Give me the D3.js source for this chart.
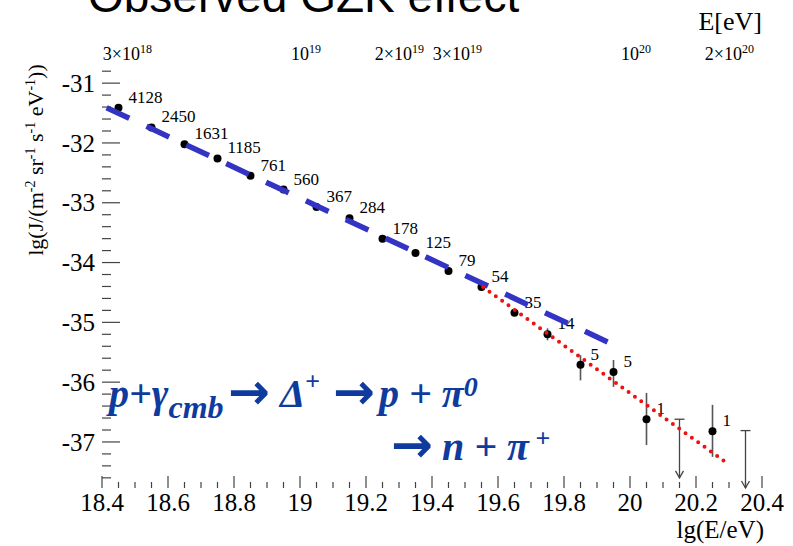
<!DOCTYPE html>
<html>
<head>
<meta charset="utf-8">
<script src="https://cdn.jsdelivr.net/npm/d3@7"></script>
<style>
    body { margin: 0; background: #fff; }
</style>
</head>
<body>
<div id="chart"></div>
<script>
// measured points: bin centres in lg(E/eV), flux lg J, event counts
var lgE = [18.45, 18.55, 18.65, 18.75, 18.85, 18.95, 19.05, 19.15, 19.25, 19.35,
           19.45, 19.55, 19.65, 19.75, 19.85, 19.95, 20.05, 20.25];
var lgJ = [-31.41, -31.74, -32.02, -32.26, -32.55, -32.78, -33.07, -33.26, -33.60, -33.84,
           -34.14, -34.41, -34.84, -35.20, -35.71, -35.83, -36.62, -36.82];
var counts = ["4128", "2450", "1631", "1185", "761", "560", "367", "284", "178", "125",
              "79", "54", "35", "14", "5", "5", "1", "1"];
// error bars (only the last bins have visible ones)
var errHi = [null, null, null, null, null, null, null, null, null, null,
             null, null, null, -35.10, -35.55, -35.63, -36.18, -36.38];
var errLo = [null, null, null, null, null, null, null, null, null, null,
             null, null, null, -35.30, -35.97, -36.08, -37.05, -37.25];
// upper limits (empty bins)
var ulE = [20.15, 20.35];
var ulTop = [-36.62, -36.81];
var ulBottom = [-37.60, -37.77];
// fits
var blueE = [18.414, 19.964];
var blueJ = [-31.41, -35.41];
var redE = [19.555, 20.298];
var redJ = [-34.41, -37.37];
// axes
var xTicks = [18.4, 18.6, 18.8, 19.0, 19.2, 19.4, 19.6, 19.8, 20.0, 20.2, 20.4];
var yTicks = [-31, -32, -33, -34, -35, -36, -37];
var topLabels = [
    { v: 3e18, m: "3\u00d710", e: "18" },
    { v: 1e19, m: "10", e: "19" },
    { v: 2e19, m: "2\u00d710", e: "19" },
    { v: 3e19, m: "3\u00d710", e: "19" },
    { v: 1e20, m: "10", e: "20" },
    { v: 2e20, m: "2\u00d710", e: "20" }
];

var W = 793, H = 546;
var serif = "'Liberation Serif', 'Times New Roman', serif";
var svg = d3.select("#chart").append("svg")
    .attr("width", W).attr("height", H)
    .attr("font-family", serif)
    .style("font-family", serif);

var x = d3.scaleLinear().domain([18.4, 20.4]).range([102, 762]);
var y = d3.scaleLinear().domain([-37.77, -30.73]).range([488, 67]);
var left = x.range()[0], right = x.range()[1], top = y.range()[1], bottom = y.range()[0];

// title, cut at the top of the slide
svg.append("text")
    .attr("x", 88).attr("y", 12)
    .style("font-family", "'Liberation Sans', Arial, sans-serif")
    .style("font-size", "46px")
    .attr("fill", "#000")
    .text("Observed GZK effect");

// frame
svg.append("rect")
    .attr("x", left).attr("y", top)
    .attr("width", right - left).attr("height", bottom - top)
    .attr("fill", "none").attr("stroke", "#444").attr("stroke-width", 1.4);

// bottom axis, ticks inward
var xMinor = d3.range(18.4, 20.401, 0.05);
svg.append("g").selectAll("line").data(xMinor).enter().append("line")
    .attr("x1", function (d) { return x(d); }).attr("x2", function (d) { return x(d); })
    .attr("y1", bottom)
    .attr("y2", function (d) { return Math.abs(Math.round(d * 5) - d * 5) < 1e-6 ? bottom - 12 : bottom - 6; })
    .attr("stroke", "#444").attr("stroke-width", 1.2);
svg.append("g").selectAll("text").data(xTicks).enter().append("text")
    .attr("x", function (d) { return x(d); })
    .attr("y", 511)
    .attr("text-anchor", "middle")
    .style("font-size", "25px")
    .text(function (d) { return String(+d.toFixed(1)); });
svg.append("text")
    .attr("x", 764).attr("y", 538)
    .attr("text-anchor", "end")
    .style("font-size", "25px")
    .text("lg(E/eV)");

// left axis, ticks inward
var yMinor = d3.range(-37.6, -30.79, 0.2);
svg.append("g").selectAll("line").data(yMinor).enter().append("line")
    .attr("y1", function (d) { return y(d); }).attr("y2", function (d) { return y(d); })
    .attr("x1", left)
    .attr("x2", function (d) { return Math.abs(Math.round(d) - d) < 1e-6 ? left + 18 : left + 9; })
    .attr("stroke", "#444").attr("stroke-width", 1.2);
svg.append("g").selectAll("text").data(yTicks).enter().append("text")
    .attr("x", 95)
    .attr("y", function (d) { return y(d); })
    .attr("dy", "0.35em")
    .attr("text-anchor", "end")
    .style("font-size", "25px")
    .text(function (d) { return String(d); });

var ylab = svg.append("text")
    .attr("transform", "translate(43,160) rotate(-90)")
    .attr("text-anchor", "middle")
    .style("font-size", "22px");
[["lg(J/(m", 0], ["-2", 1], [" sr", 0], ["-1", 1], [" s", 0], ["-1", 1], [" eV", 0], ["-1", 1], ["))", 0]]
    .forEach(function (p, i, arr) {
        var prevSup = i > 0 && arr[i - 1][1];
        var t = ylab.append("tspan").text(p[0]);
        if (p[1]) t.attr("dy", -8).style("font-size", "14px");
        else if (prevSup) t.attr("dy", 8);
    });

// top axis: E[eV], log positions on lg scale
var topVals = [];
[18, 19, 20].forEach(function (n) {
    for (var k = 1; k <= 9; k++) {
        var v = k * Math.pow(10, n);
        if (v >= 3e18 && v <= 2e20) topVals.push(v);
    }
});
svg.append("g").selectAll("line").data(topVals).enter().append("line")
    .attr("x1", function (d) { return x(Math.log10(d)); })
    .attr("x2", function (d) { return x(Math.log10(d)); })
    .attr("y1", top)
    .attr("y2", function (d) { return (d === 1e19 || d === 1e20) ? top + 12 : top + 6; })
    .attr("stroke", "#444").attr("stroke-width", 1.2);
var tl = svg.append("g").selectAll("text").data(topLabels).enter().append("text")
    .attr("x", function (d) { return x(Math.log10(d.v)) + (d.m === "10" ? 6 : 0); })
    .attr("y", 60)
    .attr("text-anchor", "middle")
    .style("font-size", "18px");
tl.append("tspan").text(function (d) { return d.m; });
tl.append("tspan").attr("dy", -7).style("font-size", "12px").text(function (d) { return d.e; });
svg.append("text")
    .attr("x", 762).attr("y", 30)
    .attr("text-anchor", "end")
    .style("font-size", "26px")
    .text("E[eV]");

// error bars
var pts = lgE.map(function (e, i) {
    return { e: e, j: lgJ[i], c: counts[i], hi: errHi[i], lo: errLo[i] };
});
svg.append("g").selectAll("line").data(pts.filter(function (d) { return d.hi !== null; }))
    .enter().append("line")
    .attr("x1", function (d) { return x(d.e); }).attr("x2", function (d) { return x(d.e); })
    .attr("y1", function (d) { return y(d.hi); }).attr("y2", function (d) { return y(d.lo); })
    .attr("stroke", "#555").attr("stroke-width", 1.6);

// upper limits
var ul = ulE.map(function (e, i) { return { e: e, t: ulTop[i], b: ulBottom[i] }; });
var ulg = svg.append("g").attr("stroke", "#444").attr("stroke-width", 1.3).attr("fill", "none");
ulg.selectAll(".stem").data(ul).enter().append("line")
    .attr("x1", function (d) { return x(d.e); }).attr("x2", function (d) { return x(d.e); })
    .attr("y1", function (d) { return y(d.t); }).attr("y2", function (d) { return y(d.b); });
ulg.selectAll(".cap").data(ul).enter().append("line")
    .attr("x1", function (d) { return x(d.e) - 5; }).attr("x2", function (d) { return x(d.e) + 5; })
    .attr("y1", function (d) { return y(d.t); }).attr("y2", function (d) { return y(d.t); });
ulg.selectAll(".head").data(ul).enter().append("path")
    .attr("d", function (d) {
        var px = x(d.e), py = y(d.b);
        return "M" + (px - 4) + "," + (py - 7) + "L" + px + "," + py + "L" + (px + 4) + "," + (py - 7);
    });

// points
svg.append("g").selectAll("circle").data(pts).enter().append("circle")
    .attr("cx", function (d) { return x(d.e); })
    .attr("cy", function (d) { return y(d.j); })
    .attr("r", 4)
    .attr("fill", "#000");

// event counts
svg.append("g").selectAll("text").data(pts).enter().append("text")
    .attr("x", function (d) { return x(d.e) + 10; })
    .attr("y", function (d) { return y(d.j) - 5; })
    .style("font-size", "17px")
    .text(function (d) { return d.c; });

// fits
var line = d3.line().x(function (d) { return x(d[0]); }).y(function (d) { return y(d[1]); });
svg.append("path")
    .datum(blueE.map(function (e, i) { return [e, blueJ[i]]; }))
    .attr("d", line)
    .attr("fill", "none").attr("stroke", "#3333c4").attr("stroke-width", 5.5)
    .attr("stroke-dasharray", "25,19");
svg.append("path")
    .datum(redE.map(function (e, i) { return [e, redJ[i]]; }))
    .attr("d", line)
    .attr("fill", "none").attr("stroke", "#ee1111").attr("stroke-width", 4)
    .attr("stroke-linecap", "round")
    .attr("stroke-dasharray", "0,7.8");

// reaction text
var fcol = "#0f3b9e";
function arrow(sel, ax, ay) {
    sel.append("tspan").attr("x", ax).attr("y", ay)
        .style("font-family", "'DejaVu Sans', sans-serif")
        .style("font-style", "normal").style("font-size", "50px")
        .text("\u2192");
}
var f1 = svg.append("text")
    .attr("fill", fcol)
    .style("font-weight", "bold").style("font-style", "italic").style("font-size", "40px");
f1.append("tspan").attr("x", 109).attr("y", 407).text("p+\u03b3");
f1.append("tspan").attr("y", 418).style("font-size", "32px").text("cmb");
arrow(f1, 228, 409);
f1.append("tspan").attr("x", 280).attr("y", 407).text("\u0394");
f1.append("tspan").attr("y", 390).style("font-size", "26px").text("+");
arrow(f1, 333, 409);
f1.append("tspan").attr("x", 379).attr("y", 407).text("p + \u03c0");
f1.append("tspan").attr("y", 396).style("font-size", "28px").text("0");

var f2 = svg.append("text")
    .attr("fill", fcol)
    .style("font-weight", "bold").style("font-style", "italic").style("font-size", "40px");
arrow(f2, 391, 462);
f2.append("tspan").attr("x", 442).attr("y", 460).text("n + \u03c0");
f2.append("tspan").attr("y", 447).style("font-size", "26px").style("font-style", "normal").text(" +");
</script>
</body>
</html>
